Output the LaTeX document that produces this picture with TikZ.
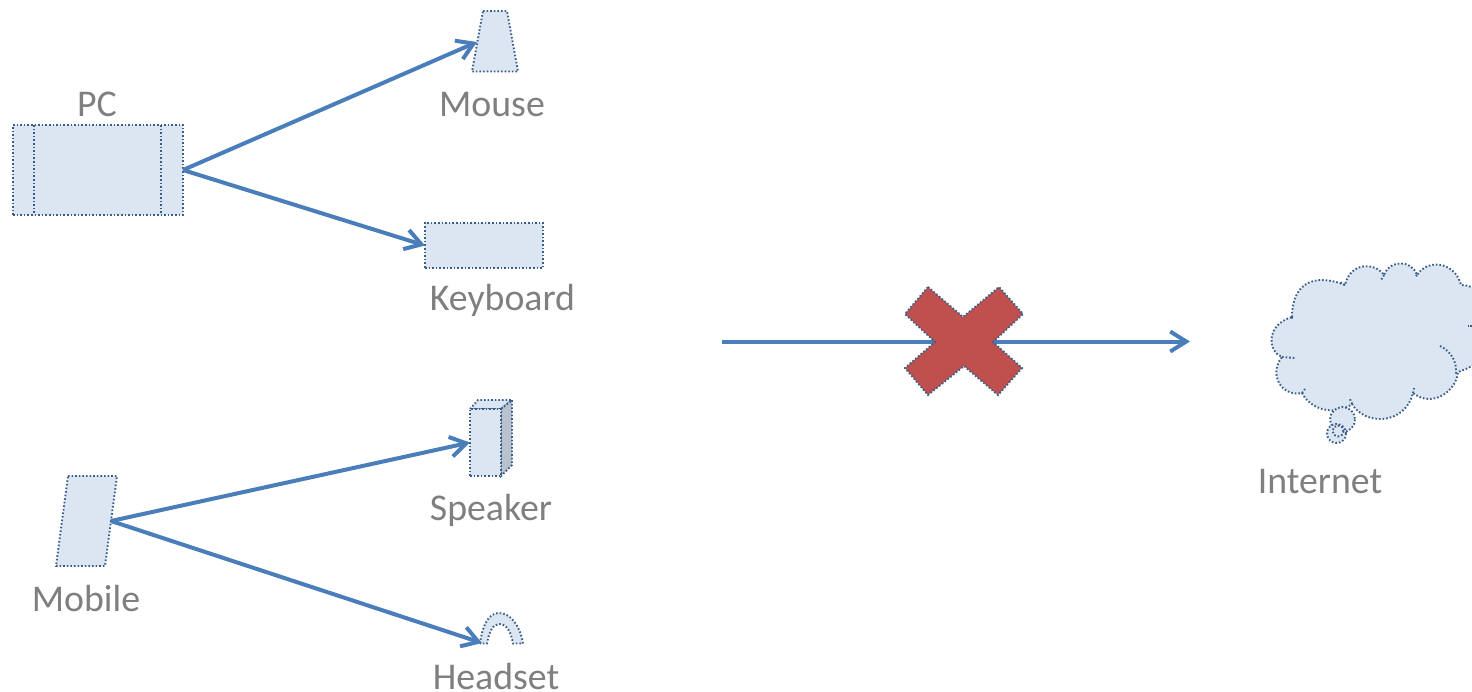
\documentclass[tikz,border=0pt]{standalone}
\usepackage{fontspec}
\setmainfont{Carlito}
\usetikzlibrary{arrows.meta}
\definecolor{shapefill}{HTML}{DCE6F2}
\definecolor{shapeline}{HTML}{385D8A}
\definecolor{arrowblue}{HTML}{4A7EBB}
\definecolor{labelgray}{HTML}{7F7F7F}
\definecolor{crossred}{HTML}{C0504D}
\definecolor{sidegray}{HTML}{B9C1CC}
\tikzset{
  dotline/.style={draw=shapeline,line width=1.9pt,dash pattern=on 1.6pt off 2pt},
  part/.style={dotline,fill=shapefill},
  boxnode/.style={part,rectangle,inner sep=0pt,outer sep=0pt},
  conn/.style={draw=arrowblue,line width=4pt,-{Straight Barb[length=16pt,width=20pt,line width=4pt]}},
  lbl/.style={text=labelgray,font=\fontsize{37.8}{40}\selectfont,anchor=base,inner sep=0pt}
}
\begin{document}
\begin{tikzpicture}[x=1pt,y=-1pt]
\useasboundingbox (0,0) rectangle (1472,691);
% PC
\node[boxnode,minimum width=170pt,minimum height=90pt] (pc) at (98,170) {};
\draw[dotline] (34,125) -- (34,215) (161,125) -- (161,215);
% Keyboard
\node[boxnode,minimum width=118pt,minimum height=45pt] (keyboard) at (484,245.5) {};
% Mouse
\path[part] (483,11) -- (507,11) -- (518,71.5) -- (472,71.5) -- cycle;
\coordinate (mouse) at (477,42);
% Speaker
\path[part] (470,409) -- (478,400) -- (512,400) -- (501,409) -- cycle;
\path[dotline,fill=sidegray] (501,409) -- (512,400) -- (512,465) -- (501,476) -- cycle;
\node[boxnode,minimum width=31pt,minimum height=67pt] (speaker) at (485.5,442.5) {};
% Mobile
\path[part] (68,476) -- (117,476) -- (105,566) -- (56,566) -- cycle;
\coordinate (mobile) at (111,521);
% Headset
\path[part] (480,643.5) .. controls (483,622) and (490,613) .. (499,613)
  .. controls (510,613) and (520,625) .. (523,643.5) -- (513,643.5)
  .. controls (511,632) and (507,624) .. (499,624)
  .. controls (493,624) and (489,632) .. (487,643.5) -- cycle;
\coordinate (headset) at (482,643);
% Connectors
\draw[conn] (pc.east) -- (mouse);
\draw[conn] (pc.east) -- (keyboard.west);
\draw[conn] (mobile) -- (speaker.west);
\draw[conn] (mobile) -- (headset);
% Central arrow
\coordinate (linestart) at (722,341.5);
\coordinate (lineend) at (1190,341.5);
\draw[conn] (linestart) -- (lineend);
\path[dotline,fill=crossred] (928,287) -- (963,317) -- (999,287) -- (1023,314) -- (993,342)
  -- (1022,368) -- (998,395) -- (964,366) -- (928,395) -- (905,368) -- (935,342) -- (905,314) -- cycle;
% Cloud
\begin{scope}
\clip (0,0) rectangle (1472,691);
\path[part] (1292,317)
  .. controls (1292,285) and (1312,272) .. (1345,285)
  .. controls (1350,262) and (1375,262) .. (1384,275)
  .. controls (1390,259) and (1412,260) .. (1417,275)
  .. controls (1428,258) and (1455,262) .. (1461,285)
  .. controls (1480,285) and (1495,305) .. (1495,325)
  .. controls (1495,350) and (1480,365) .. (1458,372)
  .. controls (1456,392) and (1432,408) .. (1413,393)
  .. controls (1405,425) and (1365,426) .. (1352,404)
  .. controls (1338,415) and (1312,412) .. (1302,393)
  .. controls (1282,397) and (1268,375) .. (1282,357)
  .. controls (1268,352) and (1265,325) .. (1292,317) -- cycle;
\draw[dotline] (1345,285) -- (1340,282) (1384,275) -- (1381,280) (1417,275) -- (1415,277);
\draw[dotline] (1440,346) .. controls (1452,352) and (1457,362) .. (1456,375);
\draw[dotline] (1413,393) -- (1414,388) (1352,404) -- (1350,399) (1302,393) -- (1305,389);
\draw[dotline] (1282,357) -- (1295,358) (1292,317) -- (1292,320);
\draw[dotline] (1472,326) -- (1468,326);
\end{scope}
\draw[part] (1342.5,419.5) circle[radius=12.5];
\draw[part] (1336.5,433.5) circle[radius=9.5];
\draw[dotline] (1338,431) circle[radius=5.5];
% Labels
\node[lbl] (lpc) at (97,116) {PC};
\node[lbl] (lmouse) at (492,116) {Mouse};
\node[lbl] (lkeyboard) at (502.5,310) {Keyboard};
\node[lbl] (lspeaker) at (491,520) {Speaker};
\node[lbl] (lmobile) at (86,611) {Mobile};
\node[lbl] (lheadset) at (496,689) {Headset};
\node[lbl] (linternet) at (1320,493) {Internet};
\end{tikzpicture}
\end{document}
